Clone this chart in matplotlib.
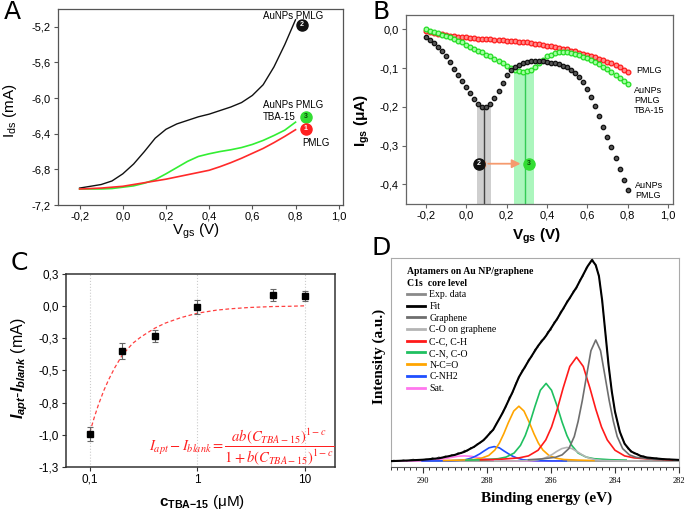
import numpy as np
import matplotlib
matplotlib.use('Agg')
import matplotlib.pyplot as plt
from matplotlib.lines import Line2D
from matplotlib.ticker import FuncFormatter, FixedLocator, NullLocator, MultipleLocator

plt.rcParams['font.family'] = ['Liberation Sans', 'DejaVu Sans']
plt.rcParams['mathtext.fontset'] = 'custom'
plt.rcParams['mathtext.rm'] = 'Liberation Sans'
plt.rcParams['mathtext.it'] = 'Liberation Sans:italic'
plt.rcParams['mathtext.bf'] = 'Liberation Sans:bold'
plt.rcParams['mathtext.bfit'] = 'Liberation Sans:bold:italic'

# ---------------- panel A: Ids vs Vgs ----------------
vgs_a = np.linspace(-0.2, 0.8, 21)
ids_aunps = [-7.01, -6.99, -6.97, -6.93, -6.85, -6.74, -6.60, -6.45, -6.35, -6.29, -6.25,
             -6.21, -6.18, -6.14, -6.10, -6.05, -5.97, -5.85, -5.65, -5.40, -5.12]
ids_aunps_tba = [-7.02, -7.02, -7.02, -7.015, -7.00, -6.985, -6.955, -6.915, -6.85, -6.78, -6.71,
                 -6.655, -6.625, -6.60, -6.58, -6.555, -6.52, -6.475, -6.42, -6.36, -6.27]
ids_pmlg = [-7.02, -7.015, -7.01, -7.00, -6.99, -6.97, -6.95, -6.93, -6.91, -6.885, -6.86,
            -6.835, -6.81, -6.77, -6.725, -6.675, -6.62, -6.565, -6.50, -6.43, -6.355]

# ---------------- panel B: Igs vs Vgs ----------------
vgs_b = np.linspace(-0.2, 0.8, 51)
igs_aunps = [-0.021, -0.028, -0.035, -0.045, -0.056, -0.070, -0.085, -0.102, -0.117, -0.133,
             -0.150, -0.165, -0.181, -0.193, -0.200, -0.200, -0.193, -0.178, -0.159, -0.138,
             -0.119, -0.106, -0.098, -0.092, -0.088, -0.085, -0.083, -0.082, -0.081, -0.083,
             -0.085, -0.086, -0.088, -0.090, -0.094, -0.098, -0.105, -0.114, -0.124, -0.137,
             -0.155, -0.176, -0.199, -0.225, -0.251, -0.278, -0.305, -0.333, -0.360, -0.388,
             -0.414]
igs_pmlg = [-0.005, -0.007, -0.009, -0.011, -0.013, -0.015, -0.017, -0.018, -0.019, -0.020,
            -0.021, -0.022, -0.023, -0.024, -0.025, -0.025, -0.026, -0.027, -0.027, -0.028,
            -0.029, -0.030, -0.031, -0.032, -0.033, -0.034, -0.036, -0.037, -0.039, -0.040,
            -0.042, -0.044, -0.046, -0.048, -0.050, -0.052, -0.055, -0.057, -0.060, -0.063,
            -0.066, -0.069, -0.072, -0.076, -0.080, -0.084, -0.088, -0.093, -0.098, -0.104,
            -0.111]
igs_aunps_tba = [0.001, -0.004, -0.007, -0.010, -0.014, -0.017, -0.021, -0.025, -0.029, -0.034,
                 -0.040, -0.046, -0.051, -0.055, -0.059, -0.065, -0.070, -0.076, -0.082, -0.088,
                 -0.095, -0.100, -0.104, -0.108, -0.109, -0.108, -0.104, -0.096, -0.086, -0.078,
                 -0.070, -0.065, -0.061, -0.059, -0.059, -0.059, -0.061, -0.064, -0.067, -0.071,
                 -0.075, -0.079, -0.084, -0.090, -0.096, -0.102, -0.109, -0.117, -0.125, -0.133,
                 -0.140]
# Dirac points (Vgs, Igs) of the two AuNP curves
dirac_aunps = (0.09, -0.200)
dirac_tba = (0.29, -0.109)

# ---------------- panel C: response vs concentration ----------------
conc = [0.1, 0.2, 0.4, 1, 5, 10]
delta_i = [-1.025, -0.339, -0.214, 0.025, 0.125, 0.119]
delta_err = [0.058, 0.067, 0.047, 0.058, 0.050, 0.040]
fit_conc = [0.1, 0.11, 0.12, 0.135, 0.15, 0.17, 0.2, 0.25, 0.3, 0.4, 0.5, 0.7, 1.0, 1.5, 2.0, 3.0, 5.0, 7.0, 10.0]
fit_delta = [-1.011, -0.887, -0.784, -0.664, -0.573, -0.478, -0.372, -0.275, -0.22, -0.15, -0.108,
             -0.062, -0.025, 0.0, 0.011, 0.022, 0.03, 0.032, 0.036]
c_yticks = np.linspace(-1.3, 0.3, 7)
c_yticklabels = ['-1,3', '-1,0', '-0,8', '-0,5', '-0,3', '0,0', '0,3']

# ---------------- panel D: XPS C1s ----------------
exp_be = np.round(np.arange(291.0, 281.95, -0.1), 1)
exp_int = [0.004, 0.009, 0.004, 0.006, 0.010, 0.005, 0.009, 0.014, 0.008, 0.011,
           0.010, 0.014, 0.012, 0.021, 0.015, 0.025, 0.019, 0.030, 0.026, 0.036,
           0.033, 0.046, 0.041, 0.058, 0.054, 0.072, 0.071, 0.090, 0.094, 0.112,
           0.121, 0.150, 0.156, 0.192, 0.214, 0.252, 0.272, 0.322, 0.338, 0.390,
           0.414, 0.455, 0.466, 0.508, 0.519, 0.558, 0.568, 0.603, 0.609, 0.646,
           0.652, 0.694, 0.703, 0.746, 0.756, 0.798, 0.808, 0.848, 0.857, 0.902,
           0.918, 0.962, 0.978, 1.005, 0.968, 0.925, 0.795, 0.645, 0.475, 0.355,
           0.245, 0.185, 0.125, 0.095, 0.064, 0.058, 0.040, 0.042, 0.026, 0.030,
           0.019, 0.023, 0.016, 0.020, 0.013, 0.016, 0.011, 0.014, 0.010, 0.012,
           0.010]
fit_be = [291.0, 290.5, 290.0, 289.5, 289.0, 288.7, 288.4, 288.1, 287.8, 287.5, 287.2, 287.0,
          286.7, 286.4, 286.15, 285.8, 285.5, 285.2, 285.0, 284.85, 284.72, 284.6, 284.5, 284.4,
          284.3, 284.2, 284.1, 284.0, 283.85, 283.7, 283.5, 283.2, 283.0, 282.5, 282.0]
fit_int = [0.004, 0.007, 0.011, 0.018, 0.035, 0.05, 0.075, 0.108, 0.16, 0.245, 0.345, 0.42,
           0.50, 0.575, 0.625, 0.71, 0.79, 0.865, 0.925, 0.97, 1.0, 0.975, 0.92, 0.80,
           0.64, 0.48, 0.35, 0.25, 0.15, 0.09, 0.052, 0.03, 0.022, 0.014, 0.010]
background = 0.004

graphene_be = [286.70, 286.28, 285.86, 285.65, 285.44, 285.27, 285.15, 285.02, 284.89, 284.75, 284.60,
               284.45, 284.31, 284.18, 284.05, 283.93, 283.76, 283.55, 283.34, 282.92, 282.50]
graphene_int = [0.011, 0.015, 0.023, 0.035, 0.066, 0.126, 0.201, 0.304, 0.424, 0.551, 0.604,
                0.551, 0.424, 0.304, 0.201, 0.126, 0.066, 0.035, 0.023, 0.015, 0.011]
co_gr_be = [287.75, 287.30, 286.85, 286.63, 286.40, 286.22, 286.09, 285.95, 285.82, 285.66, 285.50,
            285.34, 285.19, 285.05, 284.92, 284.78, 284.60, 284.38, 284.15, 283.70, 283.25]
co_gr_int = [0.005, 0.005, 0.006, 0.007, 0.011, 0.018, 0.026, 0.038, 0.052, 0.066, 0.072,
             0.066, 0.052, 0.038, 0.026, 0.018, 0.011, 0.007, 0.006, 0.005, 0.005]
cc_be = [288.2, 287.6, 287.0, 286.7, 286.4, 286.16, 285.98, 285.8, 285.62, 285.41, 285.2,
         284.99, 284.78, 284.6, 284.42, 284.24, 284.0, 283.7, 283.4, 282.8, 282.2]
cc_int = [0.010, 0.013, 0.020, 0.030, 0.058, 0.109, 0.173, 0.262, 0.365, 0.473, 0.519,
          0.473, 0.365, 0.262, 0.173, 0.109, 0.058, 0.030, 0.020, 0.013, 0.010]
cn_be = [288.65, 288.15, 287.65, 287.4, 287.15, 286.95, 286.80, 286.65, 286.50, 286.33, 286.15,
         285.98, 285.80, 285.65, 285.50, 285.35, 285.15, 284.90, 284.65, 284.15, 283.65]
cn_int = [0.009, 0.011, 0.016, 0.024, 0.044, 0.082, 0.131, 0.197, 0.274, 0.355, 0.389,
          0.355, 0.274, 0.197, 0.131, 0.082, 0.044, 0.024, 0.016, 0.011, 0.009]
nco_be = [289.35, 288.88, 288.41, 288.18, 287.94, 287.75, 287.61, 287.47, 287.33, 287.16, 287.00,
          286.84, 286.67, 286.53, 286.39, 286.25, 286.06, 285.83, 285.59, 285.12, 284.65]
nco_int = [0.007, 0.009, 0.012, 0.018, 0.032, 0.059, 0.093, 0.140, 0.194, 0.252, 0.276,
           0.252, 0.194, 0.140, 0.093, 0.059, 0.032, 0.018, 0.012, 0.009, 0.007]
cnh2_be = [290.02, 289.57, 289.12, 288.90, 288.67, 288.49, 288.36, 288.22, 288.09, 287.93, 287.77,
           287.61, 287.46, 287.32, 287.19, 287.05, 286.87, 286.65, 286.42, 285.97, 285.52]
cnh2_int = [0.005, 0.005, 0.006, 0.008, 0.011, 0.019, 0.028, 0.040, 0.054, 0.070, 0.076,
            0.070, 0.054, 0.040, 0.028, 0.019, 0.011, 0.008, 0.006, 0.005, 0.005]
sat_be = [291.7, 291.1, 290.5, 290.2, 289.9, 289.66, 289.48, 289.3, 289.12, 288.91, 288.7,
          288.49, 288.28, 288.1, 287.92, 287.74, 287.5, 287.2, 286.9, 286.3, 285.7]
sat_int = [0.004, 0.005, 0.005, 0.005, 0.007, 0.009, 0.013, 0.017, 0.022, 0.028, 0.030,
           0.028, 0.022, 0.017, 0.013, 0.009, 0.007, 0.005, 0.005, 0.005, 0.004]


def comma(v, pos):
    s = f'{v:.1f}'.replace('.', ',')
    return '0,0' if s == '-0,0' else s


def style_axes(ax, color, lw=0.9, size=8):
    for sp in ax.spines.values():
        sp.set_color(color)
        sp.set_linewidth(lw)
    ax.tick_params(direction='out', length=3, width=0.8, color=color, labelsize=size, pad=2)


def badge(ax, x, y, num, fc, tc='white'):
    ax.plot(x, y, 'o', ms=8, mfc=fc, mec=fc, zorder=6)
    ax.text(x, y, num, color=tc, fontsize=5, fontweight='bold', ha='center', va='center', zorder=7)


fig = plt.figure(figsize=(6.85, 5.12), dpi=100)

# ---- A
axA = fig.add_axes([0.0847, 0.5996, 0.4161, 0.3828])
axA.plot(vgs_a, ids_aunps, color='#111111', lw=1.0)
axA.plot(vgs_a, ids_aunps_tba, color='#33ee33', lw=1.2)
axA.plot(vgs_a, ids_pmlg, color='#ff2a2a', lw=1.2)
axA.set_xlim(-0.3, 1.02)
axA.set_ylim(-7.2, -5.0)
axA.set_xticks([-0.2, 0.0, 0.2, 0.4, 0.6, 0.8, 1.0])
axA.set_yticks([-7.2, -6.8, -6.4, -6.0, -5.6, -5.2])
axA.xaxis.set_major_formatter(FuncFormatter(comma))
axA.yaxis.set_major_formatter(FuncFormatter(comma))
style_axes(axA, '#555555')
axA.set_xlabel(r'V$_{\rm gs}$ (V)', fontsize=11)
axA.set_ylabel(r'I$_{\rm ds}$ (mA)', fontsize=11)
axA.xaxis.set_label_coords(0.484, -0.133)
axA.xaxis.label.set_va('center')
axA.yaxis.set_label_coords(-0.168, 0.48)
axA.yaxis.label.set_va('center')
axA.text(0.647, -5.076, 'AuNPs PMLG', fontsize=7, va='center')
axA.text(0.647, -6.076, 'AuNPs PMLG', fontsize=7, va='center')
axA.text(0.647, -6.21, 'TBA-15', fontsize=7, va='center')
axA.text(0.832, -6.503, 'PMLG', fontsize=7, va='center')
badge(axA, 0.828, -5.178, '2', '#111111')
badge(axA, 0.847, -6.21, '3', '#33dd33', '#0a4a0a')
badge(axA, 0.847, -6.346, '1', '#ff2020')

# ---- B
axB = fig.add_axes([0.5923, 0.6016, 0.3902, 0.3691])
xd, yd = dirac_aunps
axB.fill_between([xd - 0.035, xd + 0.035], -0.46, yd, color='#b0b0b0', alpha=0.6, lw=0, zorder=0)
axB.plot([xd, xd], [-0.46, yd], color='#444444', lw=1.0, zorder=1)
xt, yt = dirac_tba
axB.fill_between([xt - 0.053, xt + 0.047], -0.46, yt + 0.005, color='#66f088', alpha=0.55, lw=0, zorder=0)
axB.plot([xt, xt], [-0.46, yt], color='#33cc55', lw=1.0, zorder=1)
axB.plot(vgs_b, igs_pmlg, 'o', ms=3.4, mfc='#ff8a8a', mec='#ff1a1a', mew=0.9, zorder=3)
axB.plot(vgs_b, igs_aunps_tba, 'o', ms=3.4, mfc='#a0ffa0', mec='#22dd22', mew=0.9, zorder=4)
axB.plot(vgs_b, igs_aunps, 'o', ms=3.2, mfc='#555555', mec='#111111', mew=0.9, zorder=5)
axB.annotate('', xy=(0.283, -0.347), xytext=(xd + 0.005, -0.347),
             arrowprops=dict(arrowstyle='-|>,head_length=0.5,head_width=0.25',
                             color='#f59a6e', lw=1.3), zorder=6)
axB.plot(xd + 0.005, -0.347, '|', ms=5, color='#f59a6e', mew=1.0, zorder=6)
badge(axB, 0.064, -0.347, '2', '#111111')
badge(axB, 0.312, -0.347, '3', '#33dd33', '#0a4a0a')
axB.set_xlim(-0.3, 1.025)
axB.set_ylim(-0.451, 0.037)
axB.set_xticks([-0.2, 0.0, 0.2, 0.4, 0.6, 0.8, 1.0])
axB.set_yticks([-0.4, -0.3, -0.2, -0.1, 0.0])
axB.xaxis.set_major_formatter(FuncFormatter(comma))
axB.yaxis.set_major_formatter(FuncFormatter(comma))
style_axes(axB, '#666666')
axB.set_xlabel(r'V$_{\mathbf{gs}}$ (V)', fontsize=11, fontweight='bold')
axB.set_ylabel(r'I$_{\mathbf{gs}}$ ($\mathbf{\mu}$A)', fontsize=11, fontweight='bold')
axB.xaxis.set_label_coords(0.4875, -0.169)
axB.xaxis.label.set_va('center')
axB.yaxis.set_label_coords(-0.163, 0.44)
axB.yaxis.label.set_va('center')
axB.text(0.841, -0.107, 'PMLG', fontsize=6.5, va='center')
axB.text(0.831, -0.183, 'AuNPs\nPMLG\nTBA-15', fontsize=6.5, va='center', linespacing=1.15)
axB.text(0.836, -0.416, 'AuNPs\nPMLG', fontsize=6.5, va='center', linespacing=1.15)

# ---- C
axC = fig.add_axes([0.0964, 0.0879, 0.3927, 0.3770])
axC.set_xscale('log')
for v in [0.1, 1, 10]:
    axC.axvline(v, color='#cccccc', ls=':', lw=0.8, zorder=0)
axC.plot(fit_conc, fit_delta, color='#ff4040', ls=(0, (3, 2)), lw=0.9, zorder=2)
axC.errorbar(conc, delta_i, yerr=delta_err, fmt='s', ms=4.5, color='black', ecolor='#666666',
             elinewidth=0.8, capsize=2, capthick=0.8, zorder=3)
axC.set_xlim(0.06, 19)
axC.set_ylim(-1.3, 0.3)
axC.xaxis.set_major_locator(FixedLocator([0.1, 1, 10]))
axC.xaxis.set_minor_locator(NullLocator())
axC.set_xticklabels(['0,1', '1', '10'])
axC.set_yticks(c_yticks)
axC.set_yticklabels(c_yticklabels)
style_axes(axC, '#333333', lw=1.1, size=8.5)
axC.set_xlabel(r'$\mathbf{c_{TBA{-}15}}$ ($\mathrm{\mu}$M)', fontsize=11)
axC.set_ylabel(r'$\mathbfit{I_{apt}}$-$\mathbfit{I_{blank}}$ (mA)', fontsize=11.5)
axC.xaxis.set_label_coords(0.506, -0.181)
axC.xaxis.label.set_va('center')
axC.yaxis.set_label_coords(-0.171, 0.513)
axC.yaxis.label.set_va('center')
axC.text(0.653, 0.104,
         r'$I_{apt}-I_{blank}=\dfrac{ab(C_{TBA-15})^{1-c}}{1+b(C_{TBA-15})^{1-c}}$',
         transform=axC.transAxes, color='#ff2020', fontsize=10.5, math_fontfamily='stix',
         ha='center', va='center')

# ---- D
serif = ['Liberation Serif', 'DejaVu Serif']
axD = fig.add_axes([0.5704, 0.0879, 0.4209, 0.4082])
axD.axhline(background, color='#a0a0a0', lw=1.4, zorder=1)
components = [
    (sat_be, sat_int, '#ff77ee', 'Sat.'),
    (cnh2_be, cnh2_int, '#1f4fff', 'C-NH2'),
    (nco_be, nco_int, '#ffa500', 'N-C=O'),
    (cn_be, cn_int, '#1fc060', 'C-N, C-O'),
    (cc_be, cc_int, '#ff1a1a', 'C-C, C-H'),
    (co_gr_be, co_gr_int, '#b4b4b4', 'C-O on graphene'),
    (graphene_be, graphene_int, '#6e6e6e', 'Graphene'),
]
for be, inten, col, lab in components:
    axD.plot(be, inten, color=col, lw=1.2, zorder=2)
axD.plot(exp_be, exp_int, color='#444444', lw=0.6, zorder=3)
axD.plot(fit_be, fit_int, color='black', lw=1.5, zorder=4)
axD.set_xlim(291, 282)
axD.set_ylim(-0.025, 1.01)
axD.set_yticks([])
axD.xaxis.set_major_locator(MultipleLocator(2))
axD.xaxis.set_minor_locator(MultipleLocator(0.2))
for sp in axD.spines.values():
    sp.set_color('#aaaaaa')
    sp.set_linewidth(0.8)
axD.spines['bottom'].set_color('#555555')
axD.tick_params(axis='x', which='major', direction='out', length=4, width=0.8, color='#333333',
                labelsize=6, pad=3)
axD.tick_params(axis='x', which='minor', direction='out', length=2.5, width=0.7, color='#333333')
for lbl in axD.get_xticklabels():
    lbl.set_family(serif)
axD.set_xlabel('Binding energy (eV)', fontsize=11, fontweight='bold', family=serif)
axD.set_ylabel('Intensity (a.u.)', fontsize=11, fontweight='bold', family=serif)
axD.xaxis.set_label_coords(0.542, -0.148)
axD.xaxis.label.set_va('center')
axD.yaxis.set_label_coords(-0.041, 0.528)
axD.yaxis.label.set_va('center')

handles = [Line2D([], [], color='#8a8a8a', lw=2), Line2D([], [], color='black', lw=2)]
labels = ['Exp. data', 'Fit']
for be, inten, col, lab in components[::-1]:
    handles.append(Line2D([], [], color=col, lw=2))
    labels.append(lab)
leg = axD.legend(handles, labels, loc='upper left', bbox_to_anchor=(0.055, 0.955), frameon=False,
                 prop={'family': serif, 'size': 7}, handlelength=1.9, handletextpad=0.45,
                 labelspacing=0.28, borderaxespad=0, borderpad=0,
                 title='Aptamers on Au NP/graphene\nC1s  core level',
                 title_fontproperties={'family': serif, 'weight': 'bold', 'size': 7},
                 alignment='left')
leg.get_title().set_linespacing(1.3)

# panel letters
for letter, px, py in [('A', 12, 12), ('B', 381, 12), ('C', 19, 263), ('D', 381, 248)]:
    fig.text(px / 685, 1 - py / 512, letter, fontsize=18, ha='center', va='center',
             family=['DejaVu Sans'])

fig.savefig('out.png', dpi=100)
